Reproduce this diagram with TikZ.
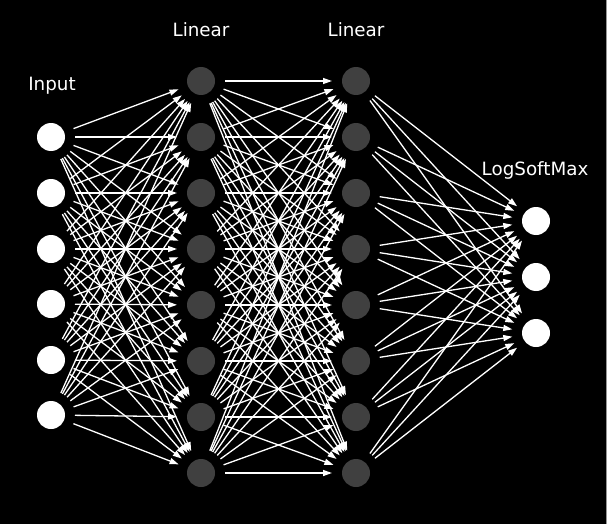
\documentclass[tikz,border=0pt]{standalone}
\usepackage{fontspec}
\setmainfont{DejaVu Sans}
\usetikzlibrary{arrows.meta}
\definecolor{hid}{RGB}{64,64,64}
\definecolor{edgegray}{RGB}{150,150,150}
\begin{document}
\begin{tikzpicture}[x=1pt,y=-1pt,
  neuronw/.style={circle,fill=white,minimum size=28pt,inner sep=0pt,outer sep=0pt},
  neuronh/.style={circle,fill=hid,minimum size=28pt,inner sep=0pt,outer sep=0pt},
  lbl/.style={text=white,font=\fontsize{18.3pt}{22pt}\selectfont,inner sep=0pt},
  conn/.style={draw=white,line width=1.3pt,shorten <=10pt,shorten >=10pt,
    -{Triangle[length=9pt,width=6pt]}}]
\fill[black] (0,0) rectangle (607,524);
\useasboundingbox (0,0) rectangle (607,524);
\draw[edgegray,line width=1pt] (606.5,0) -- (606.5,524);
% input layer
\foreach \i/\y in {1/137,2/193,3/249,4/304,5/360,6/415}
  \node[neuronw] (I\i) at (51,\y) {};
% hidden 1
\foreach \i/\y in {1/81,2/137,3/193,4/249,5/305,6/361,7/417,8/473}
  \node[neuronh] (A\i) at (201,\y) {};
% hidden 2
\foreach \i/\y in {1/81,2/137,3/193,4/249,5/305,6/361,7/417,8/473}
  \node[neuronh] (B\i) at (356,\y) {};
% output
\foreach \i/\y in {1/221,2/277,3/333}
  \node[neuronw] (O\i) at (536,\y) {};
% labels
\node[lbl] (tI) at (52,86) {Input};
\node[lbl] (tA) at (201,30) {Linear};
\node[lbl] (tB) at (356,30) {Linear};
\node[lbl] (tO) at (535,170) {LogSoftMax};
% connections
\foreach \i in {1,...,6}
  \foreach \j in {1,...,8}
    \draw[conn] (I\i) -- (A\j);
\foreach \i in {1,...,8}
  \foreach \j in {1,...,8}
    \draw[conn] (A\i) -- (B\j);
\foreach \i in {1,...,8}
  \foreach \j in {1,...,3}
    \draw[conn] (B\i) -- (O\j);
\end{tikzpicture}
\end{document}
